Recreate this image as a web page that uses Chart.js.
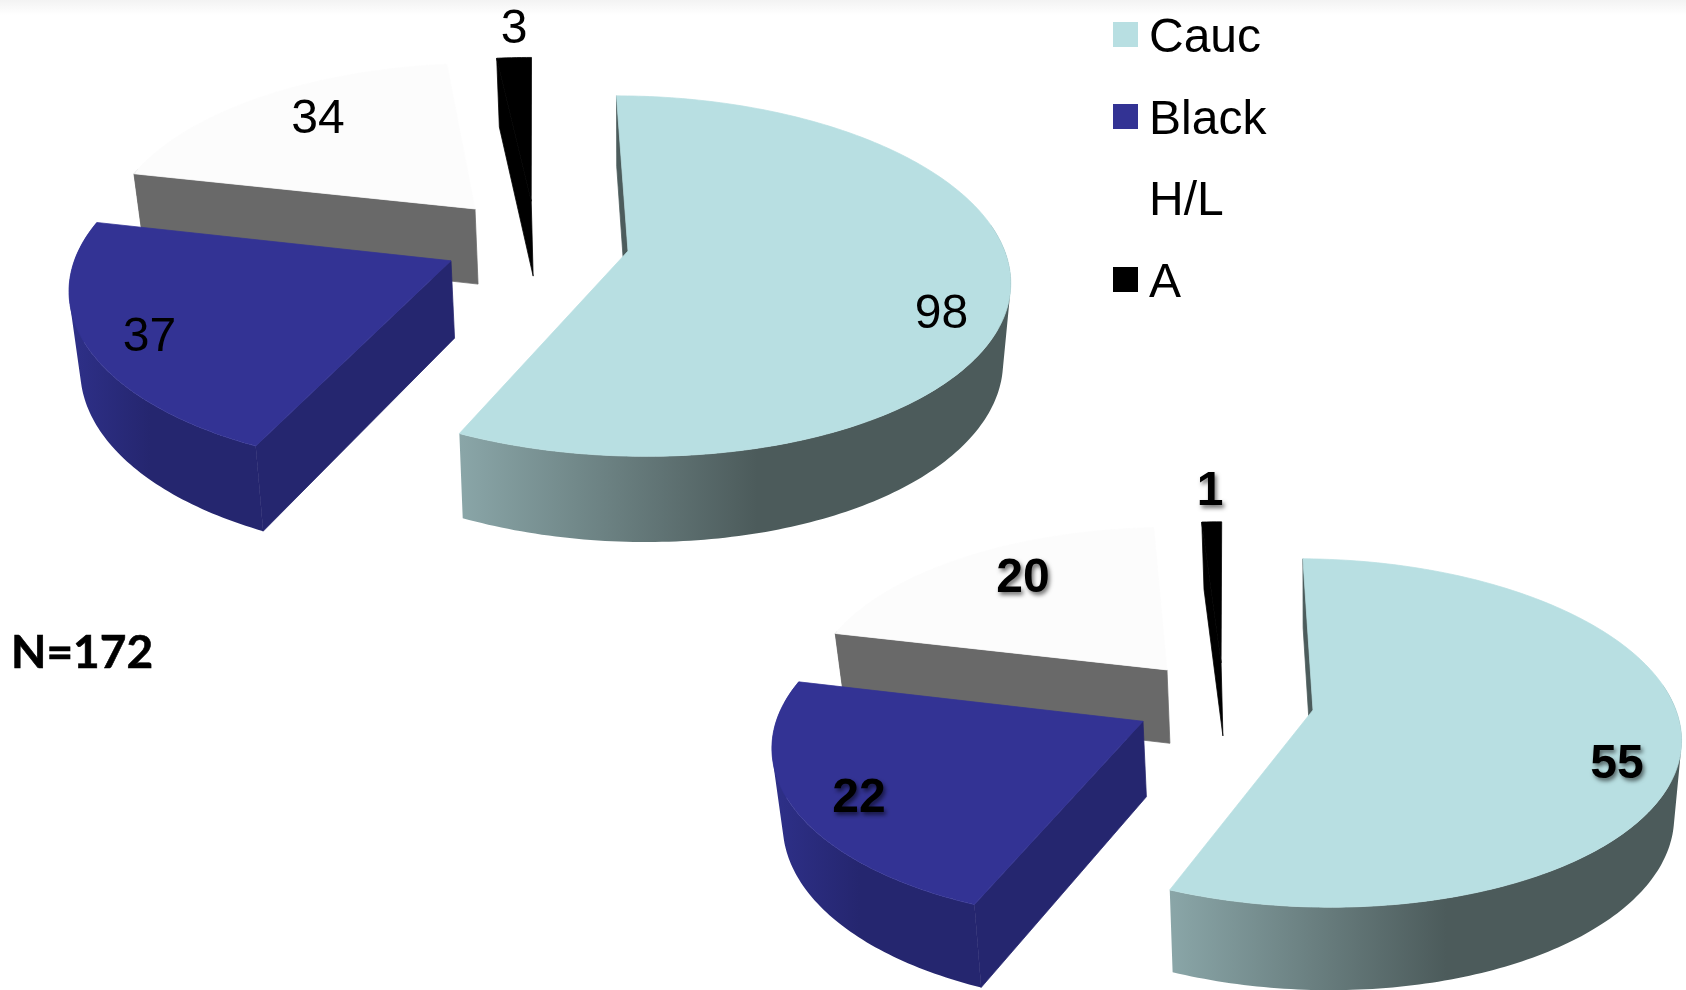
<!DOCTYPE html>
<html>
<head>
<meta charset="utf-8">
<title>Race breakdown</title>
<script src="https://cdn.jsdelivr.net/npm/chart.js@4.4.1/dist/chart.umd.js"></script>
<style>
  html, body { margin: 0; padding: 0; background: #fff; overflow: hidden; }
  #stage { position: relative; width: 1686px; height: 990px; }
  #stage canvas { position: absolute; left: 0; top: 0; }
  #topShade {
    position: absolute; left: 0; top: 0; width: 100%; height: 15px;
    background: linear-gradient(#f3f3f3, #fff);
  }
  #legend { position: absolute; left: 1113px; top: 22px; font: 48px "Liberation Sans", Arial, sans-serif; color: #000; }
  .legend-row { position: absolute; left: 0; display: flex; align-items: center; height: 25px; white-space: nowrap; }
  .legend-row span:last-child { position: relative; top: 1px; }
  .legend-box { width: 25px; height: 25px; margin-right: 11px; }
  #total {
    position: absolute; left: 11px; top: 623px; line-height: 56px;
    font: bold 46px Lato, "Open Sans", sans-serif; color: #000;
    -webkit-text-stroke: 0.6px #000;
  }
</style>
</head>
<body>
<div id="stage">
  <div id="topShade"></div>
  <canvas id="pieAll" width="1686" height="990"></canvas>
  <canvas id="pieSub" width="1686" height="990"></canvas>
  <div id="legend"></div>
  <div id="total"></div>
</div>

<script>
// Data
const groups = ["Cauc", "Black", "H/L", "A"];
const allPatients = [98, 37, 34, 3];
const subPatients = [55, 22, 20, 1];
const totalLabel = "N=172";

// Colours, one entry per group
const topColors = ["#b8dfe2", "#333394", "#fcfcfc", "#000000"];
const legendColors = ["#b8dfe2", "#333394", "#ffffff", "#000000"];
const edgeColors = ["#4c5c5c", "#25266f", "#696969", "#000000"];
const rimLight = ["#8aa6a8", "#2e3089", "#696969", "#000000"];
const rimDark = ["#4c5b5b", "#25266f", "#696969", "#000000"];
const rimFade = [0.54, 0.42, 0.54, 0.54];

// Tilted-plane look: slices are projected through a simple homography
const pie3dPlugin = {
  id: "pie3d",
  beforeDatasetsDraw(chart, args, opts) {
    const ctx = chart.ctx;
    const arcs = chart.getDatasetMeta(0).data;

    function project(U, V) {
      const w = 1 - opts.tilt * V - opts.skew * U;
      const x = (opts.rx * U) / w;
      return {
        x: opts.cx + x,
        y: opts.cy + (opts.ry * V) / w + opts.shear * x,
        w: w,
      };
    }

    // same point on the underside of the slab
    function drop(pt) {
      return {
        x: opts.cx + (pt.x - opts.cx) * 0.98,
        y: pt.y + opts.depth * (1 + 0.7 * (1 / pt.w - 1)),
      };
    }

    function tracePolygon(points) {
      points.forEach((p, i) => (i ? ctx.lineTo(p.x, p.y) : ctx.moveTo(p.x, p.y)));
      ctx.closePath();
    }

    // the thin stroke closes the hairlines between neighbouring faces
    function fillPath(points, style) {
      ctx.beginPath();
      tracePolygon(points);
      ctx.fillStyle = style;
      ctx.strokeStyle = style;
      ctx.lineWidth = 0.75;
      ctx.fill();
      ctx.stroke();
    }

    // signed area, used to give every wall quad the same winding
    function area(q) {
      let sum = 0;
      q.forEach((p, i) => {
        const n = q[(i + 1) % q.length];
        sum += p.x * n.y - n.x * p.y;
      });
      return sum;
    }

    // back slices first, the front ones overlap them
    opts.drawOrder.forEach((i) => {
      const arc = arcs[i];
      const [su, sv] = opts.shift[i];
      const rim = [];
      const sines = [];
      const steps = Math.max(2, Math.ceil((arc.endAngle - arc.startAngle) * 60));
      for (let s = 0; s <= steps; s++) {
        const a = arc.startAngle + ((arc.endAngle - arc.startAngle) * s) / steps;
        rim.push(project(su + Math.cos(a), sv + Math.sin(a)));
        sines.push(Math.sin(a));
      }
      const apex = project(su, sv);
      const rimLow = rim.map(drop);

      // outer wall, only the part of the rim that faces the viewer
      const xs = rim.concat(rimLow).map((p) => p.x);
      const minX = Math.min(...xs);
      const maxX = Math.max(...xs);
      const grad = ctx.createLinearGradient(minX, 0, maxX, 0);
      grad.addColorStop(0, rimLight[i]);
      grad.addColorStop(rimFade[i], rimDark[i]);
      grad.addColorStop(1, rimDark[i]);
      ctx.beginPath();
      for (let s = 0; s < steps; s++) {
        if (sines[s] < -0.2) continue;
        const quad = [rim[s], rim[s + 1], rimLow[s + 1], rimLow[s]];
        tracePolygon(area(quad) > 0 ? quad : quad.reverse());
      }
      ctx.fillStyle = grad;
      ctx.fill();

      // wall along the leading cut
      fillPath([apex, rim[0], rimLow[0], drop(apex)], edgeColors[i]);

      // top face
      fillPath([apex].concat(rim), arc.options.backgroundColor);
    });

    return false;
  },
  afterDraw(chart, args, opts) {
    const ctx = chart.ctx;
    const values = chart.data.datasets[0].data;
    ctx.save();
    ctx.font = opts.labelFont;
    ctx.fillStyle = "#000";
    ctx.textAlign = "center";
    ctx.textBaseline = "middle";
    if (opts.labelShadow) {
      ctx.shadowColor = "rgba(0,0,0,0.55)";
      ctx.shadowBlur = 4;
      ctx.shadowOffsetX = 2;
      ctx.shadowOffsetY = 3;
    }
    values.forEach((v, i) => {
      ctx.fillText(String(v), opts.labelAt[i][0], opts.labelAt[i][1]);
    });
    ctx.restore();
  },
};

function makePie(canvasId, values, rotation, pieOptions) {
  return new Chart(document.getElementById(canvasId), {
    type: "pie",
    data: {
      labels: groups,
      datasets: [{ data: values, backgroundColor: topColors, borderWidth: 0 }],
    },
    options: {
      responsive: false,
      animation: false,
      rotation: rotation,
      events: [],
      plugins: {
        legend: { display: false },
        tooltip: { enabled: false },
        pie3d: pieOptions,
      },
    },
    plugins: [pie3dPlugin],
  });
}

makePie("pieAll", allPatients, -2, {
  cx: 628, cy: 251, rx: 376, ry: 176.6, tilt: 0.139, skew: 0.008, depth: 77, shear: 0.018,
  shift: [[0, 0], [-0.4677, 0.073], [-0.4213, -0.2305], [-0.2681, -0.283]],
  drawOrder: [3, 2, 0, 1],
  labelAt: [[941.5, 314.5], [149.5, 337.5], [318, 119.5], [514, 30]],
  labelFont: '48px "Liberation Sans", Arial, sans-serif',
  labelShadow: false,
});

makePie("pieSub", subPatients, -1.8, {
  cx: 1313, cy: 710, rx: 363.5, ry: 171, tilt: 0.132, skew: 0.005, depth: 75, shear: 0.02,
  shift: [[0, 0], [-0.4635, 0.085], [-0.4144, -0.2244], [-0.2624, -0.275]],
  drawOrder: [3, 2, 0, 1],
  labelAt: [[1617, 765], [859, 799], [1023, 579], [1210, 492]],
  labelFont: 'bold 48px "Liberation Sans", Arial, sans-serif',
  labelShadow: true,
});

// Legend
const legendEl = document.getElementById("legend");
groups.forEach((name, i) => {
  const row = document.createElement("div");
  row.className = "legend-row";
  row.style.top = i * 81.7 + "px";
  const box = document.createElement("span");
  box.className = "legend-box";
  box.style.background = legendColors[i];
  const text = document.createElement("span");
  text.textContent = name;
  row.appendChild(box);
  row.appendChild(text);
  legendEl.appendChild(row);
});

document.getElementById("total").textContent = totalLabel;
</script>
</body>
</html>
